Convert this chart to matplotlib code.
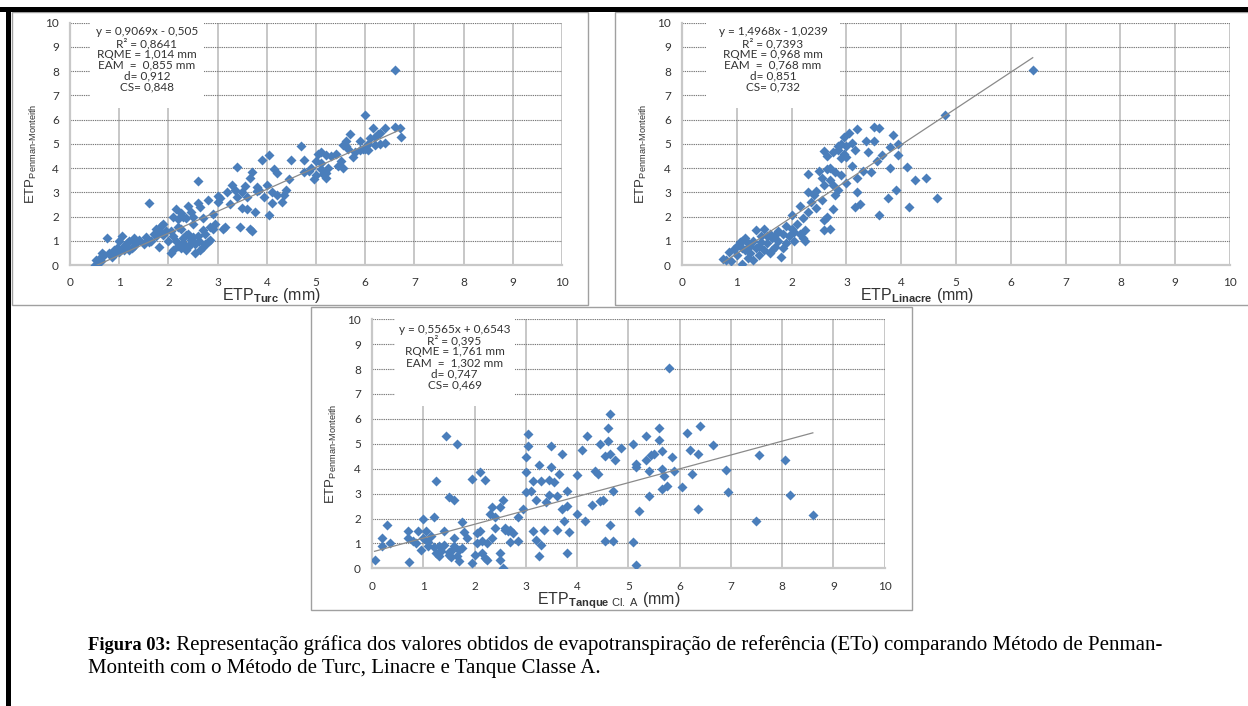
import matplotlib
matplotlib.use('Agg')
import matplotlib.pyplot as plt
from matplotlib.patches import Rectangle

plt.rcParams['mathtext.fontset'] = 'custom'
plt.rcParams['mathtext.rm'] = 'Liberation Sans'
plt.rcParams['mathtext.bf'] = 'Liberation Sans:bold'
plt.rcParams['mathtext.it'] = 'Liberation Sans:italic'

# ---------------- data ----------------
turc_x = [0.5, 0.52, 0.6, 0.62, 0.7, 0.75, 0.8, 0.85, 0.9, 0.95, 1.0, 1.05, 1.1, 1.15, 1.2, 1.25, 1.3, 1.35,
          1.4, 1.5, 1.55, 1.6, 1.65, 1.7, 1.75, 1.8, 1.85, 1.9, 1.8, 1.95, 2.0, 2.05, 2.1, 2.1, 2.15, 2.2, 2.2,
          2.25, 2.3, 2.3, 2.35, 2.4, 2.4, 2.45, 2.5, 2.5, 2.55, 2.6, 2.6, 2.62, 2.65, 2.7, 2.7, 2.75, 2.8, 2.8,
          2.85, 2.9, 2.9, 2.95, 3.0, 3.0, 3.1, 3.15, 3.2, 3.25, 3.3, 3.4, 3.4, 3.45, 3.5, 3.5, 3.55, 3.6, 3.65,
          3.65, 3.7, 3.7, 3.75, 3.8, 3.85, 3.9, 3.95, 4.0, 4.05, 4.05, 4.1, 4.1, 4.15, 4.2, 4.2, 4.3, 4.35, 4.4,
          4.45, 4.5, 4.7, 4.75, 4.75, 4.95, 5.0, 5.0, 5.05, 5.1, 5.1, 5.15, 5.2, 5.2, 5.25, 5.3, 5.4, 5.45, 5.5,
          5.55, 5.55, 5.6, 5.65, 5.7, 5.75, 5.8, 5.9, 5.95, 6.0, 6.05, 6.1, 6.15, 6.2, 6.25, 6.3, 6.4, 6.4, 6.6,
          6.6, 6.7, 6.72, 5.9, 6.05, 4.9, 4.85,
          2.15, 2.25, 2.3, 2.35, 2.4, 2.45, 2.55, 2.6, 2.65, 2.7, 2.75, 2.85, 2.2, 2.05, 1.9, 1.75, 1.6, 1.3,
          1.1, 0.9, 0.65, 0.55, 1.0, 1.2, 2.45, 2.35, 2.1, 2.5, 2.25, 3.05, 3.35, 3.6, 3.8, 5.1, 5.2, 5.6, 6.0,
          6.2, 6.3]
turc_y = [0.0, 0.2, 0.3, 0.15, 0.4, 1.1, 0.5, 0.35, 0.6, 0.7, 0.55, 1.2, 0.8, 0.9, 1.0, 0.7, 1.1, 0.9,
          1.05, 0.85, 1.15, 2.55, 1.0, 1.3, 1.5, 1.45, 1.6, 1.7, 0.75, 1.4, 1.0, 0.5, 0.6, 1.2, 2.3, 1.9, 0.8,
          1.5, 2.0, 1.1, 0.6, 2.45, 1.3, 0.9, 1.7, 1.15, 0.5, 2.55, 3.45, 1.0, 2.4, 0.75, 1.95, 1.3, 2.7, 0.95,
          1.05, 2.1, 1.5, 1.7, 2.85, 2.6, 1.5, 1.55, 3.0, 2.5, 3.3, 4.05, 2.8, 1.55, 3.0, 2.35, 3.25, 2.3, 3.6,
          1.5, 1.4, 3.85, 2.2, 3.2, 3.1, 4.35, 2.8, 3.3, 4.55, 2.05, 3.0, 2.55, 3.95, 2.9, 3.8, 2.6, 2.9, 3.1,
          3.55, 4.35, 4.9, 3.85, 4.35, 3.55, 3.7, 4.3, 4.6, 3.95, 4.65, 3.75, 4.55, 3.6, 4.0, 4.5, 4.6, 4.1, 4.3,
          4.0, 4.95, 5.1, 4.8, 5.4, 4.45, 4.65, 5.1, 4.8, 6.2, 5.0, 5.25, 5.65, 4.95, 5.4, 5.0, 5.65, 5.05, 5.7,
          8.05, 5.65, 5.3, 4.75, 4.75, 4.0, 3.9,
          1.0, 0.7, 0.9, 1.25, 0.75, 1.05, 0.85, 1.2, 0.6, 1.45, 0.85, 1.55, 1.55, 1.4, 1.25, 1.2, 0.95, 0.8,
          0.6, 0.45, 0.5, 0.05, 1.0, 0.6, 2.2, 1.95, 2.0, 2.0, 2.15, 2.75, 3.1, 2.8, 3.05, 4.2, 3.8, 4.9, 4.8,
          5.3, 5.45]

linacre_x = [0.75, 0.8, 0.85, 0.9, 0.95, 1.0, 1.0, 1.05, 1.1, 1.1, 1.15, 1.2, 1.2, 1.25, 1.3, 1.3, 1.35, 1.4,
             1.4, 1.45, 1.5, 1.5, 1.55, 1.6, 1.6, 1.65, 1.7, 1.75, 1.75, 1.8, 1.85, 1.85, 1.9, 1.95, 2.0, 2.0,
             2.05, 2.1, 2.15, 2.15, 2.2, 2.2, 2.25, 2.25, 2.3, 2.3, 2.3, 2.35, 2.4, 2.45, 2.5, 2.55, 2.6, 2.6,
             2.6, 2.6, 2.65, 2.65, 2.7, 2.7, 2.75, 2.75, 2.8, 2.8, 2.85, 2.85, 2.9, 2.9, 2.95, 2.95, 3.0, 3.0,
             3.05, 3.1, 3.1, 3.15, 3.15, 3.2, 3.2, 3.2, 3.25, 3.3, 3.35, 3.4, 3.45, 3.5, 3.5, 3.55, 3.6, 3.6,
             3.65, 3.75, 3.8, 3.8, 3.85, 3.9, 3.95, 3.95, 4.1, 4.15, 4.25, 4.45, 4.65, 4.8, 6.4,
             1.1, 1.15, 1.25, 1.35, 1.45, 1.55, 1.65, 1.7, 1.9, 2.05, 2.45, 2.55, 2.7, 2.75, 2.85, 2.9, 3.0, 2.65]
linacre_y = [0.25, 0.2, 0.55, 0.15, 0.65, 0.8, 0.4, 0.95, 0.05, 0.7, 1.1, 0.9, 0.3, 0.5, 1.0, 0.2, 1.45, 0.8,
             0.4, 1.2, 1.5, 0.6, 0.9, 1.3, 0.5, 1.1, 0.75, 1.4, 1.0, 0.35, 1.3, 0.7, 1.6, 1.2, 2.05, 1.5,
             1.0, 1.7, 2.45, 1.3, 1.1, 1.95, 1.45, 1.0, 3.75, 2.2, 3.0, 2.6, 2.9, 2.35, 3.9, 2.7, 4.7, 3.3,
             1.85, 1.45, 4.5, 2.0, 3.5, 1.5, 4.65, 2.3, 3.85, 2.9, 4.9, 3.1, 4.4, 3.7, 5.3, 4.6, 4.9, 3.4,
             5.45, 5.05, 4.1, 4.75, 2.4, 5.6, 3.6, 3.0, 2.5, 3.9, 5.1, 4.65, 3.85, 5.7, 5.1, 4.3, 5.65, 2.05,
             4.55, 2.75, 4.0, 4.85, 5.35, 3.1, 4.55, 5.0, 4.05, 2.4, 3.5, 3.6, 2.75, 6.2, 8.05,
             1.0, 0.6, 0.8, 0.7, 0.95, 1.2, 0.6, 1.25, 0.9, 1.35, 3.05, 3.6, 4.0, 3.3, 4.75, 5.0, 4.45, 3.95]

tanque_x = [0.05, 0.2, 0.2, 0.3, 0.35, 0.7, 0.7, 0.72, 0.85, 0.9, 0.95, 1.0, 1.0, 1.05, 1.1, 1.15, 1.2, 1.25,
            1.25, 1.3, 1.4, 1.4, 1.45, 1.5, 1.5, 1.55, 1.6, 1.6, 1.65, 1.65, 1.7, 1.75, 1.75, 1.8, 1.85, 1.95,
            1.95, 2.05, 2.05, 2.1, 2.1, 2.15, 2.2, 2.2, 2.25, 2.3, 2.35, 2.35, 2.4, 2.4, 2.5, 2.5, 2.5, 2.55,
            2.55, 2.6, 2.65, 2.7, 2.75, 2.85, 2.85, 2.95, 3.0, 3.0, 3.0, 3.05, 3.05, 3.1, 3.15, 3.15, 3.2, 3.2,
            3.25, 3.25, 3.3, 3.3, 3.35, 3.4, 3.45, 3.45, 3.5, 3.5, 3.55, 3.6, 3.6, 3.65, 3.7, 3.7, 3.75, 3.8,
            3.8, 3.8, 3.85, 4.0, 4.0, 4.1, 4.15, 4.2, 4.3, 4.35, 4.4, 4.45, 4.45, 4.5, 4.55, 4.55, 4.6, 4.6,
            4.65, 4.65, 4.65, 4.7, 4.7, 4.75, 4.85, 5.1, 5.1, 5.15, 5.15, 5.15, 5.2, 5.35, 5.35, 5.4, 5.4,
            5.45, 5.5, 5.6, 5.6, 5.65, 5.65, 5.65, 5.7, 5.75, 5.8, 5.85, 5.9, 6.05, 6.15, 6.2, 6.25, 6.35,
            6.35, 6.4, 6.65, 6.9, 6.95, 7.55, 7.5, 8.05, 8.15, 8.6,
            1.1, 1.2, 1.35, 1.5, 1.6, 1.7, 2.0, 2.15, 2.25, 2.6, 2.7, 0.8, 1.3, 1.55]
tanque_y = [0.35, 1.2, 0.9, 1.75, 1.0, 1.5, 1.2, 0.25, 1.0, 1.5, 0.75, 1.2, 2.0, 1.5, 0.9, 1.3, 2.05, 3.5,
            0.6, 0.5, 1.5, 0.95, 5.3, 2.85, 0.55, 0.7, 2.75, 1.2, 5.0, 0.5, 0.3, 1.85, 0.8, 1.45, 1.2, 3.6,
            0.2, 1.4, 1.0, 3.85, 1.5, 0.6, 0.4, 3.55, 1.0, 2.2, 2.45, 1.2, 2.05, 1.6, 2.45, 0.6, 0.35, 2.75,
            0.0, 1.6, 1.5, 1.05, 1.4, 2.05, 1.1, 2.4, 4.45, 3.85, 3.05, 5.4, 4.9, 3.1, 3.5, 1.5, 2.75, 1.15,
            4.15, 0.5, 3.5, 0.95, 1.55, 2.65, 3.55, 2.95, 4.9, 4.05, 3.45, 2.9, 1.55, 3.8, 4.6, 2.4, 1.9, 3.1,
            2.5, 0.6, 1.45, 3.75, 2.2, 4.75, 1.9, 5.3, 2.55, 3.9, 3.8, 5.0, 2.7, 2.75, 4.5, 1.1, 5.65, 5.1,
            6.2, 4.6, 1.75, 3.1, 1.1, 4.35, 4.85, 5.0, 1.05, 4.2, 4.05, 0.15, 2.3, 5.3, 4.35, 3.9, 2.9,
            4.55, 4.6, 5.65, 5.15, 4.7, 4.0, 3.2, 3.7, 3.3, 8.05, 4.45, 3.9, 3.25, 5.45, 4.75, 3.8, 4.6,
            2.4, 5.7, 4.95, 3.95, 3.05, 4.55, 1.9, 4.35, 2.95, 2.15,
            1.05, 0.85, 0.7, 0.65, 0.9, 0.75, 0.55, 1.1, 0.35, 1.55, 1.55, 1.1, 0.9, 0.45]

turc_fit = (0.9069, -0.505)
linacre_fit = (1.4968, -1.0239)
tanque_fit = (0.5565, 0.6543)

turc_stats = ["y = 0,9069x - 0,505", "R\u00b2 = 0,8641", "RQME = 1,014 mm", "EAM  =  0,855 mm", "d= 0,912", "CS= 0,848"]
linacre_stats = ["y = 1,4968x - 1,0239", "R\u00b2 = 0,7393", "RQME = 0,968 mm", "EAM  =  0,768 mm", "d= 0,851", "CS= 0,732"]
tanque_stats = ["y = 0,5565x + 0,6543", "R\u00b2 = 0,395", "RQME = 1,761 mm", "EAM  =  1,302 mm", "d= 0,747", "CS= 0,469"]

tick_values = [0, 1, 2, 3, 4, 5, 6, 7, 8, 9, 10]
ylabel_text = 'ETP$_{\\mathrm{Penman\u2010Monteith}}$'
xlabels = [r'ETP$_{\mathbf{Turc}}$ (mm)', r'ETP$_{\mathbf{Linacre}}$ (mm)',
           r'ETP$_{\mathbf{Tanque}\ \mathrm{Cl.\ A}}$ (mm)']
caption_bold = "Figura 03:"
caption_rest = (" Representação gráfica dos valores obtidos de evapotranspiração de referência (ETo) "
                "comparando Método de Penman-")
caption_line2 = "Monteith com o Método de Turc, Linacre e Tanque Classe A."

# ---------------- layout ----------------
W, H = 1248, 706
fig = plt.figure(figsize=(W / 100, H / 100), dpi=100)
fig.patch.set_facecolor('white')


def rect_px(x0, y0, x1, y1):
    return [x0 / W, 1 - y1 / H, (x1 - x0) / W, (y1 - y0) / H]


BLUE = '#4a7ebb'
TXT = '#333333'

panels = [
    dict(ax=rect_px(70, 22.7, 562, 265), x=turc_x, y=turc_y, fit=turc_fit, stats=turc_stats,
         box=(0.40, 2.73), xlabel=xlabels[0], frame=(12, 12, 588, 305),
         xl=(0.41, -0.088), yl=(-0.062, 0.46)),
    dict(ax=rect_px(682, 22.7, 1230, 265), x=linacre_x, y=linacre_y, fit=linacre_fit, stats=linacre_stats,
         box=(0.44, 2.88), xlabel=xlabels[1], frame=(615, 12, 1260, 305),
         xl=(0.43, -0.088), yl=(-0.060, 0.46)),
    dict(ax=rect_px(372, 319.3, 884.6, 568.3), x=tanque_x, y=tanque_y, fit=tanque_fit, stats=tanque_stats,
         box=(0.44, 2.78), xlabel=xlabels[2], frame=(311, 307, 912, 610),
         xl=(0.462, -0.088), yl=(-0.064, 0.46)),
]

# panel frames
for p in panels:
    x0, y0, x1, y1 = p['frame']
    fig.add_artist(Rectangle((x0 / W, 1 - y1 / H), (x1 - x0) / W, (y1 - y0) / H,
                             transform=fig.transFigure, fill=False, edgecolor='#a0a0a0', lw=1.0))

for p in panels:
    ax = fig.add_axes(p['ax'])
    ax.set_xlim(0, 10)
    ax.set_ylim(0, 10)
    ax.set_xticks(tick_values)
    ax.set_yticks(tick_values)
    ax.set_xticklabels([str(v) for v in tick_values])
    ax.set_yticklabels([str(v) for v in tick_values])
    ax.tick_params(length=0, labelsize=8.5, labelcolor=TXT)
    ax.tick_params(axis='x', pad=9)
    ax.tick_params(axis='y', pad=8)
    for lab in ax.get_xticklabels() + ax.get_yticklabels():
        lab.set_fontfamily('Lato')
    for s in ['top', 'right']:
        ax.spines[s].set_visible(False)
    for s in ['left', 'bottom']:
        ax.spines[s].set_color('#c8c8c8')
        ax.spines[s].set_linewidth(1.6)
        ax.spines[s].set_zorder(1.5)
    ax.set_axisbelow(True)
    ax.xaxis.grid(True, color='#bdbdbd', lw=1.2, ls='-')
    ax.yaxis.grid(True, color='#7a7a7a', lw=0.8, ls=(0, (1.2, 0.8)))

    # stats box (white background covering grid)
    bx0, bx1 = p['box']
    ax.add_patch(Rectangle((bx0, 6.5), bx1 - bx0, 3.7, facecolor='white', edgecolor='none',
                           zorder=1.8, clip_on=False))
    ax.text((bx0 + bx1) / 2, 8.48, "\n".join(p['stats']), ha='center', va='center',
            multialignment='center', fontsize=8.5, family='Lato', color=TXT, linespacing=0.99,
            zorder=3)

    # regression line
    a, b = p['fit']
    xmin, xmax = min(p['x']), max(p['x'])
    ax.plot([xmin, xmax], [a * xmin + b, a * xmax + b], color='#8a8a8a', lw=0.9, zorder=2.5)
    ax.plot(p['x'], p['y'], linestyle='none', marker='D', ms=5.2, mfc=BLUE, mec='none', zorder=2.2)

    ax.set_xlabel(p['xlabel'], fontsize=11.5, color=TXT, family='Liberation Sans')
    ax.xaxis.set_label_coords(*p['xl'])
    ax.set_ylabel(ylabel_text, fontsize=9.5, color=TXT, family='Liberation Sans')
    ax.yaxis.set_label_coords(*p['yl'])

# black page borders
fig.add_artist(Rectangle((0, 1 - 12 / H), 1, 5 / H, transform=fig.transFigure, color='black', lw=0))
fig.add_artist(Rectangle((6 / W, 0), 5 / W, 1 - 7 / H, transform=fig.transFigure, color='black', lw=0))

# caption
t1 = fig.text(88 / W, 1 - 650 / H, caption_bold, fontsize=13.3, family='Liberation Serif',
              weight='bold', color='black', va='baseline')
fig.canvas.draw()
bb = t1.get_window_extent()
fig.text(bb.x1 / W, 1 - 650 / H, caption_rest, fontsize=15, family='Liberation Serif',
         color='black', va='baseline')
fig.text(88 / W, 1 - 673 / H, caption_line2, fontsize=15, family='Liberation Serif',
         color='black', va='baseline')

fig.savefig('out.png', dpi=100, facecolor='white')
